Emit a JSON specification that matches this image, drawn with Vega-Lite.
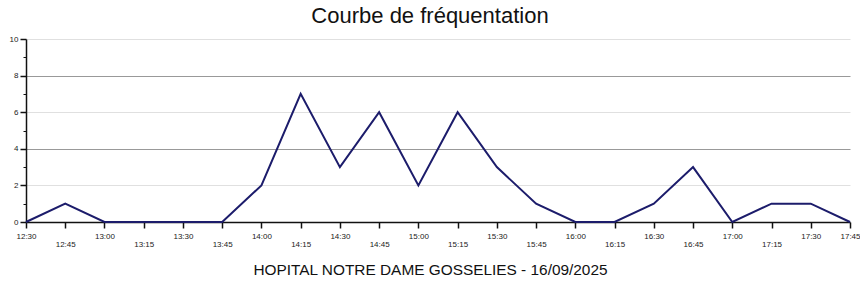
{
  "$schema": "https://vega.github.io/schema/vega-lite/v6.json",
  "width": 824,
  "height": 183,
  "autosize": {"type": "none"},
  "padding": {"left": 26, "top": 39, "right": 10, "bottom": 62},
  "background": "white",
  "title": {
    "text": "Courbe de fréquentation",
    "font": "Liberation Sans",
    "fontSize": 22,
    "fontWeight": "normal",
    "color": "#111111",
    "anchor": "middle",
    "dx": -8,
    "offset": 7
  },
  "data": {
    "values": [
      {"heure": "12:30", "n": 0},
      {"heure": "12:45", "n": 1},
      {"heure": "13:00", "n": 0},
      {"heure": "13:15", "n": 0},
      {"heure": "13:30", "n": 0},
      {"heure": "13:45", "n": 0},
      {"heure": "14:00", "n": 2},
      {"heure": "14:15", "n": 7},
      {"heure": "14:30", "n": 3},
      {"heure": "14:45", "n": 6},
      {"heure": "15:00", "n": 2},
      {"heure": "15:15", "n": 6},
      {"heure": "15:30", "n": 3},
      {"heure": "15:45", "n": 1},
      {"heure": "16:00", "n": 0},
      {"heure": "16:15", "n": 0},
      {"heure": "16:30", "n": 1},
      {"heure": "16:45", "n": 3},
      {"heure": "17:00", "n": 0},
      {"heure": "17:15", "n": 1},
      {"heure": "17:30", "n": 1},
      {"heure": "17:45", "n": 0}
    ]
  },
  "mark": {"type": "line", "color": "#1c1c6b", "strokeWidth": 2},
  "encoding": {
    "x": {
      "field": "heure",
      "type": "ordinal",
      "sort": null,
      "scale": {"type": "point", "padding": 0},
      "axis": {
        "title": "HOPITAL NOTRE DAME GOSSELIES - 16/09/2025",
        "titleFont": "Liberation Sans",
        "titleFontSize": 15.4,
        "titleFontWeight": "normal",
        "titleColor": "#111111",
        "titlePadding": 14,
        "titleX": 404,
        "labelAngle": 0,
        "labelFont": "Liberation Sans",
        "labelFontSize": 8,
        "labelColor": "#222222",
        "labelPadding": {"condition": {"test": "indexof(['12:45','13:15','13:45','14:15','14:45','15:15','15:45','16:15','16:45','17:15'], datum.value) >= 0", "value": 12}, "value": 4},
        "labelOverlap": false,
        "tickSize": 6,
        "tickWidth": 1.5,
        "tickColor": "#111111",
        "domainColor": "#111111",
        "domainWidth": 1.5,
        "grid": false
      }
    },
    "y": {
      "field": "n",
      "type": "quantitative",
      "scale": {"domain": [0, 10], "nice": false},
      "axis": {
        "title": null,
        "values": [0, 0.5, 1, 1.5, 2, 2.5, 3, 3.5, 4, 4.5, 5, 5.5, 6, 6.5, 7, 7.5, 8, 8.5, 9, 9.5, 10],
        "format": "d",
        "labelExpr": "datum.value % 2 == 0 ? format(datum.value, 'd') : ''",
        "labelFont": "Liberation Sans",
        "labelFontSize": 8,
        "labelColor": "#222222",
        "labelPadding": 2,
        "tickSize": {"condition": {"test": "datum.value % 2 == 0", "value": 6}, "value": 3},
        "tickWidth": {"condition": {"test": "datum.value % 2 == 0", "value": 1.5}, "value": 1},
        "tickColor": "#111111",
        "domainColor": "#111111",
        "domainWidth": 1.5,
        "grid": true,
        "gridColor": {"condition": {"test": "datum.value == 4 || datum.value == 8", "value": "#999999"}, "value": "#e0e0e0"},
        "gridOpacity": {"condition": {"test": "datum.value % 2 == 0 && datum.value > 0", "value": 1}, "value": 0},
        "gridWidth": 1
      }
    }
  },
  "config": {"view": {"stroke": null}}
}
